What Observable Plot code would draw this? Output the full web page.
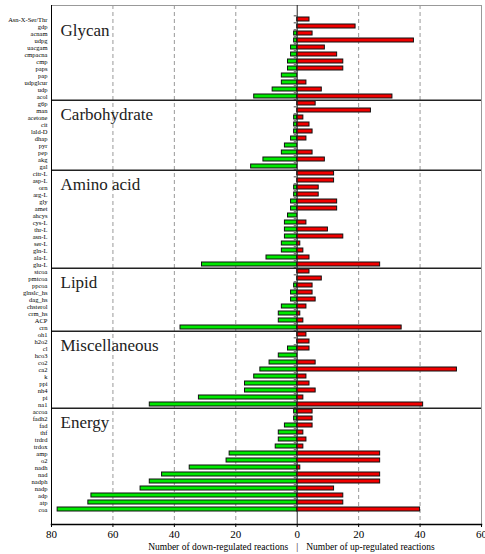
<!DOCTYPE html>
<html><head><meta charset="utf-8">
<script src="https://cdn.jsdelivr.net/npm/d3@7"></script>
<script src="https://cdn.jsdelivr.net/npm/@observablehq/plot@0.6"></script>
<style>body{margin:0;background:#fff}</style>
</head><body><div id="chart"></div>
<script>
const groups = ["Glycan","Carbohydrate","Amino acid","Lipid","Miscellaneous","Energy"];

const glycanNames = ["Asn-X-Ser/Thr","gdp","acnam","udpg","uacgam","cmpacna","cmp","paps","pap","udpglcur","udp","acol"];
const glycanDown  = [0,0,1,1,2,2,3,3,5,5,8,14];
const glycanUp    = [4,19,5,38,9,13,15,15,0,3,8,31];

const carbNames = ["g6p","man","acetone","cit","lald-D","dhap","pyr","pep","akg","gal"];
const carbDown  = [0,0,1,1,1,2,4,5,11,15];
const carbUp    = [6,24,2,4,5,3,0,5,9,0];

const aminoNames = ["citr-L","asp-L","orn","arg-L","gly","amet","ahcys","cys-L","thr-L","asn-L","ser-L","gln-L","ala-L","glu-L"];
const aminoDown  = [0,0,1,1,2,2,3,4,4,4,5,5,10,31];
const aminoUp    = [12,12,7,7,13,13,0,3,10,15,1,2,4,27];

const lipidNames = ["stcoa","pmtcoa","ppcoa","glnslc_hs","dag_hs","chsterol","crm_hs","ACP","crn"];
const lipidDown  = [0,0,1,2,2,5,6,6,38];
const lipidUp    = [4,8,5,5,6,3,1,2,34];

const miscNames = ["oh1","h2o2","cl","hco3","co2","ca2","k","ppi","nh4","pi","na1"];
const miscDown  = [0,0,3,6,9,12,14,17,17,32,48];
const miscUp    = [3,4,4,0,6,52,3,4,6,2,41];

const energyNames = ["accoa","fadh2","fad","thf","trdrd","trdox","amp","o2","nadh","nad","nadph","nadp","adp","atp","coa"];
const energyDown  = [1,1,4,6,6,7,22,23,35,44,48,51,67,68,78];
const energyUp    = [5,5,5,2,3,2,27,27,1,27,27,12,15,15,40];

const xTicks = [-80,-60,-40,-20,0,20,40,60];
const gridTicks = [-60,-40,-20,20,40];

const groupDefs = [
  [groups[0], glycanNames, glycanDown, glycanUp],
  [groups[1], carbNames, carbDown, carbUp],
  [groups[2], aminoNames, aminoDown, aminoUp],
  [groups[3], lipidNames, lipidDown, lipidUp],
  [groups[4], miscNames, miscDown, miscUp],
  [groups[5], energyNames, energyDown, energyUp]
];
const rows = [];
groupDefs.forEach(([g, n, d, u], gi) => n.forEach((name, i) => rows.push({
  group: g, name, down: -d[i], up: u[i], second: i === 1,
  last: i === n.length - 1 && gi < groupDefs.length - 1
})));
const order = rows.map(r => r.name);

const W = 485, H = 554, mt = 5, mb = 30, ml = 51, mr = 4;
const pIn = 0.4, pOut = 0.165;
const step = (H - mt - mb) / (order.length - pIn + 2 * pOut);

const chart = Plot.plot({
  width: W, height: H,
  marginTop: mt, marginBottom: mb, marginLeft: ml, marginRight: mr,
  style: {fontFamily: "'Liberation Serif', 'DejaVu Serif', serif", background: "#fff", color: "#000"},
  x: {domain: [-80, 60]},
  y: {domain: order, paddingInner: pIn, paddingOuter: pOut},
  marks: [
    Plot.ruleX(gridTicks, {stroke: "#999", strokeDasharray: "4,3"}),
    Plot.frame({stroke: "#999"}),
    Plot.barX(rows.filter(r => r.down < 0), {y: "name", x1: 0, x2: "down", fill: "#00e800", stroke: "#111", strokeWidth: 1}),
    Plot.barX(rows.filter(r => r.up > 0), {y: "name", x1: 0, x2: "up", fill: "#f00000", stroke: "#111", strokeWidth: 1}),
    Plot.ruleX([0], {stroke: "#222"}),
    Plot.ruleY(rows, {y: "name", x1: 0, x2: 0, insetLeft: -3, dy: -step / 2, stroke: "#444"}),
    Plot.ruleY(rows.filter(r => r.last), {y: "name", dy: step / 2, stroke: "#222", strokeWidth: 1.5}),
    Plot.frame({anchor: "left", stroke: "#000"}),
    Plot.frame({anchor: "bottom", stroke: "#000", strokeWidth: 1.5}),
    Plot.text(rows.filter(r => r.second), {y: "name", frameAnchor: "left", dx: 9, dy: 4, text: "group", textAnchor: "start", fontSize: 17, fill: "#222"}),
    Plot.axisX({ticks: xTicks, tickFormat: d => Math.abs(d), tickSize: 3, tickPadding: 3, fontSize: 11, label: null, fill: "#000", stroke: "#000"}),
    Plot.axisY({tickSize: 0, tickPadding: 4, fontSize: 6.5, label: null, fill: "#000"}),
    Plot.text(["Number of down-regulated reactions"], {x: 0, frameAnchor: "bottom", dx: -9, dy: 25, textAnchor: "end", fontSize: 9.5, fill: "#000", text: d => d}),
    Plot.text(["|"], {x: 0, frameAnchor: "bottom", dy: 25, fontSize: 9.5, fill: "#000", text: d => d}),
    Plot.text(["Number of up-regulated reactions"], {x: 0, frameAnchor: "bottom", dx: 9, dy: 25, textAnchor: "start", fontSize: 9.5, fill: "#000", text: d => d})
  ]
});
document.getElementById("chart").appendChild(chart);
</script>
</body></html>
